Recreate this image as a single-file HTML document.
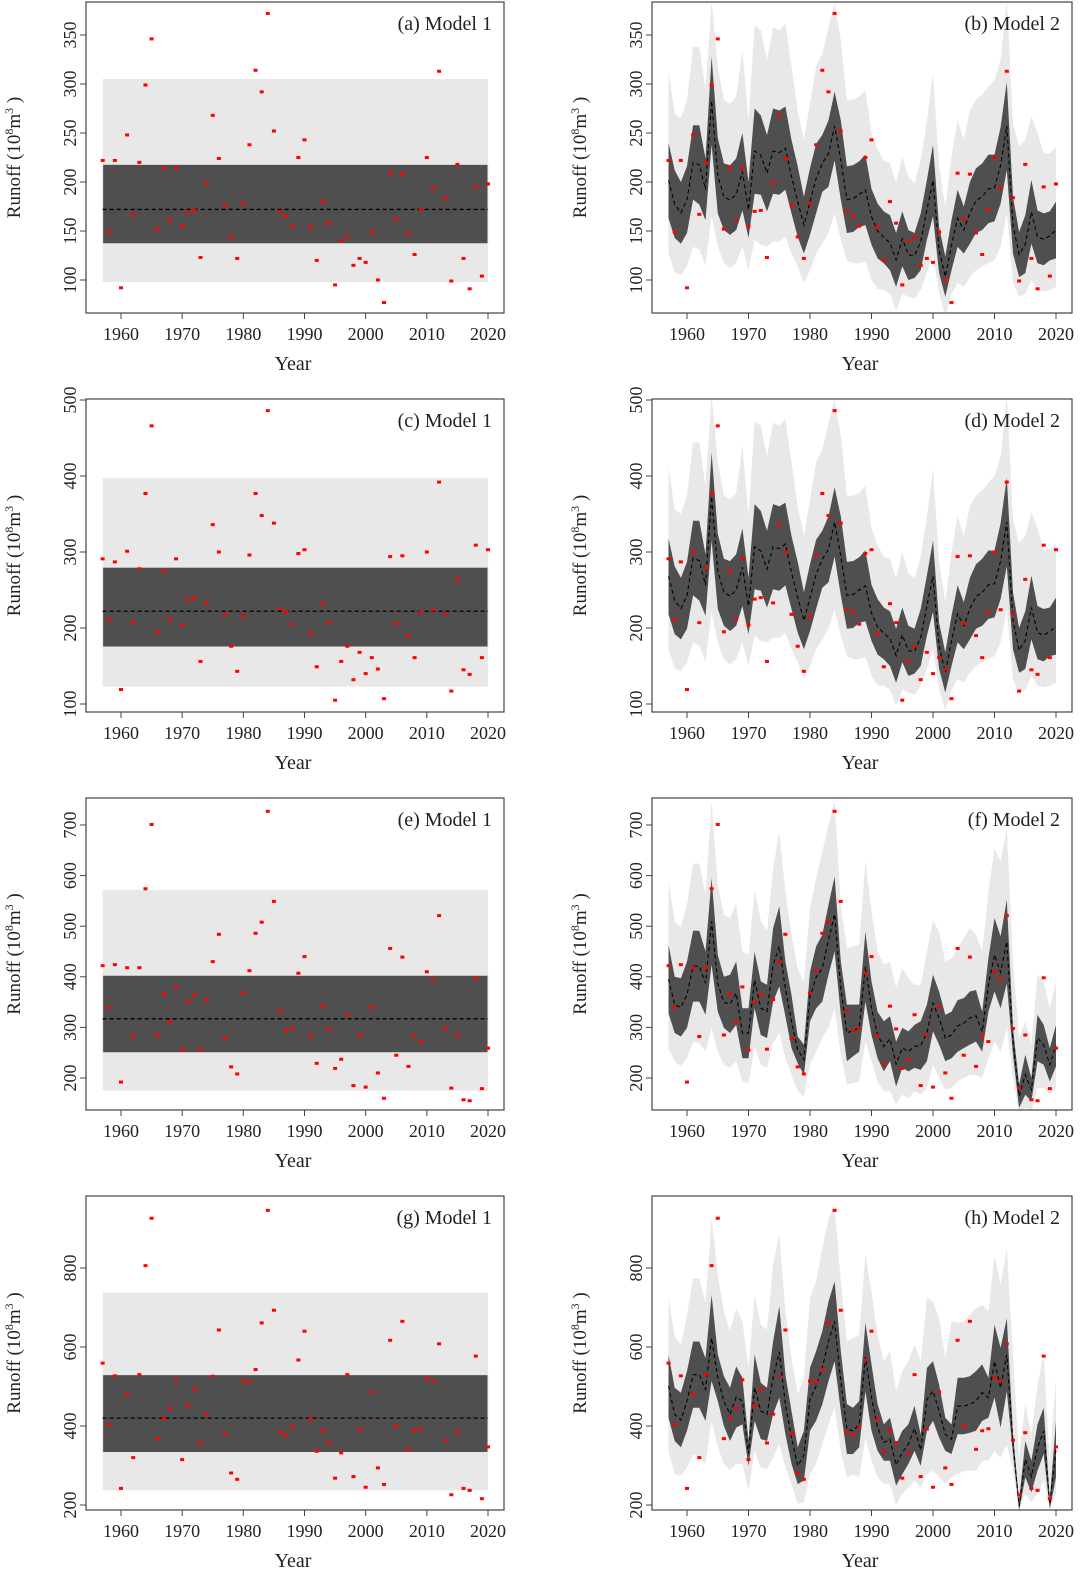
<!DOCTYPE html>
<html><head><meta charset="utf-8"><title>Runoff Model 1 vs Model 2</title>
<style>
html,body{margin:0;padding:0;background:#fff;}
svg{display:block;font-family:"Liberation Serif",serif;}
</style></head>
<body>
<svg id="fig" width="1080" height="1573" viewBox="0 0 1080 1573" xmlns="http://www.w3.org/2000/svg"></svg>
<script>
// ---------- DATA ----------
const yearStart = 1957, yearEnd = 2020;
const xTicks = [1960,1970,1980,1990,2000,2010,2020];

const obsA = [222,149,222,92,248,167,220,299,346,152,215,161,214,155,170,171,123,199,268,224,176,144,122,178,238,314,292,372,252,170,165,155,225,243,154,120,180,158,95,140,144,115,122,118,149,100,77,209,162,208,148,126,172,225,194,313,184,99,218,122,91,195,104,198];
const obsC = [291,211,287,119,301,207,278,377,466,195,275,212,291,204,238,240,156,233,336,300,218,176,143,216,296,377,348,486,338,225,221,205,298,303,192,149,232,207,105,156,176,132,168,140,161,146,107,294,206,295,190,161,221,300,224,392,219,117,264,145,139,309,161,303];
const obsE = [422,339,424,192,418,282,418,574,701,285,366,311,380,255,351,364,257,355,430,484,278,222,208,368,412,486,508,727,549,332,294,299,407,440,284,229,342,297,219,237,325,185,285,182,340,210,160,456,245,439,223,283,272,410,395,521,298,180,285,157,155,398,179,259];
const obsG = [559,404,527,242,481,320,530,806,926,368,420,445,517,315,452,493,357,430,526,643,380,281,265,514,512,543,661,946,693,385,378,397,567,640,417,336,388,358,268,332,530,272,392,245,486,294,252,617,400,665,341,388,393,521,514,608,364,226,383,242,237,577,216,347];

// Model 1 constant bands: [lo95, lo50, mean, hi50, hi95]
const m1A = [98,137,172,218,305];
const m1C = [123,175,222,280,397];
const m1E = [175,250,317,403,572];
const m1G = [237,333,420,530,738];

// Model 2 bands
const hi50B = [240,212,200,216,258,258,224,328,245,219,217,224,250,200,275,268,248,275,273,277,243,216,185,214,239,248,263,292,263,216,217,221,228,193,178,170,166,148,170,151,148,168,202,238,154,124,161,192,175,200,214,219,228,228,256,302,185,149,166,202,171,168,170,180];
const lo50B = [163,143,137,148,182,177,161,238,168,151,146,151,171,143,188,187,170,188,187,192,168,144,127,146,168,190,195,222,182,148,149,154,156,136,122,117,110,93,114,100,102,110,141,165,107,83,110,134,127,137,148,151,158,160,178,212,127,103,107,137,117,115,120,122];
const hi95B = [314,270,265,284,338,338,294,386,318,284,280,287,335,263,360,355,324,358,355,362,318,273,243,280,318,331,358,382,345,284,284,287,294,250,233,222,219,199,226,205,199,222,263,311,216,175,226,263,243,273,284,289,297,304,324,386,260,236,243,267,250,229,229,236];
const lo95B = [127,108,105,114,134,131,115,165,134,117,112,117,134,110,141,136,134,139,139,144,127,114,97,110,127,137,148,168,141,120,117,117,119,100,91,90,86,69,86,83,81,90,107,127,86,64,86,97,93,103,110,114,117,120,134,168,97,83,86,100,90,88,90,93];

const hi50D = [318,281,266,287,341,341,297,431,324,291,288,297,331,266,363,354,328,363,360,365,321,287,247,284,316,328,347,385,347,287,288,293,302,257,238,227,222,199,227,203,199,225,269,315,207,168,216,256,234,266,284,291,302,302,338,398,247,200,222,269,229,225,227,240];
const lo50D = [218,192,185,199,243,236,216,315,225,203,196,203,229,192,251,249,227,251,249,256,225,194,172,196,225,253,260,294,243,199,200,207,209,183,165,159,150,128,155,137,140,150,190,221,146,115,150,181,172,185,199,203,212,214,238,281,172,141,146,185,159,156,163,165];
const hi95D = [413,356,350,374,444,444,387,506,418,374,369,378,440,347,472,466,426,470,466,475,418,360,321,369,418,435,470,501,453,374,374,378,387,331,309,294,291,265,300,272,265,294,347,409,287,234,300,347,321,360,374,381,391,400,426,506,343,312,321,352,331,303,303,312];
const lo95D = [172,147,143,155,181,177,156,221,181,159,152,159,181,150,190,183,181,187,187,194,172,155,133,150,172,185,199,225,190,163,159,159,162,137,125,124,119,97,119,115,112,124,146,172,119,91,119,133,128,141,150,155,159,163,181,225,133,115,119,137,124,122,124,128];

const hi50F = [463,400,397,430,491,491,450,595,443,400,404,430,338,338,449,391,384,496,539,430,364,282,266,410,460,483,542,598,430,345,345,345,489,391,331,312,322,272,299,292,305,312,345,404,371,325,331,354,358,371,374,331,437,516,480,552,299,187,246,200,325,305,259,305];
const lo50F = [328,289,282,299,351,351,325,424,331,299,289,305,239,239,338,285,279,351,381,322,259,229,206,312,338,351,404,450,325,233,243,252,351,285,239,213,233,183,220,213,220,216,233,292,266,233,239,252,259,266,272,252,331,371,338,387,246,141,167,154,233,226,193,223];
const hi95F = [591,509,499,542,624,624,562,746,582,522,516,545,450,443,572,512,489,614,687,568,483,417,391,535,595,647,700,749,542,456,460,463,628,529,450,424,430,378,417,397,384,384,450,512,489,430,437,456,476,496,483,450,568,654,628,693,430,279,312,266,404,391,338,391];
const lo95F = [259,233,223,239,272,269,252,299,252,226,220,233,193,190,262,226,220,269,289,239,206,174,164,226,252,279,299,338,246,187,190,193,272,233,193,174,174,147,167,160,174,167,180,226,200,177,180,193,200,206,206,200,239,272,252,299,200,128,141,134,180,180,167,180];

const hi50H = [581,497,484,539,614,614,572,732,581,526,497,551,522,362,581,509,497,614,703,530,438,346,388,547,589,640,715,766,589,455,446,463,661,556,455,404,421,354,388,404,451,379,547,564,505,421,404,522,522,526,539,556,522,656,598,673,380,210,362,312,404,446,215,413];
const lo50H = [421,362,346,388,446,446,413,514,463,400,362,396,404,299,413,367,362,430,472,379,304,253,262,388,413,455,514,564,438,329,329,346,488,388,337,312,312,249,278,304,337,299,388,413,371,337,329,379,379,383,388,413,421,472,396,488,330,185,270,232,287,329,190,270];
const hi95H = [728,627,606,682,774,774,711,925,782,690,640,698,665,547,732,656,644,808,887,690,572,480,522,724,766,850,925,959,766,614,623,631,833,740,631,564,589,488,539,564,606,564,724,715,673,572,665,661,665,682,698,707,690,833,757,850,581,320,455,379,505,581,304,522];
const lo95H = [337,278,274,295,329,320,304,413,346,304,287,304,304,236,337,295,291,320,354,295,253,203,207,278,304,354,404,446,337,270,278,270,371,312,270,253,253,199,228,245,262,245,278,287,270,253,270,278,287,287,287,312,312,337,320,354,287,190,228,207,228,262,190,228];

const yTicksA = [100,150,200,250,300,350];
const yTicksC = [100,200,300,400,500];
const yTicksE = [200,300,400,500,600,700];
const yTicksG = [200,400,600,800];

// ---------- DRAWING ----------
const NS = "http://www.w3.org/2000/svg";
const svg = document.getElementById("fig");
function mk(tag, attrs, parent){
  const e = document.createElementNS(NS, tag);
  for (const k in attrs) e.setAttribute(k, attrs[k]);
  (parent || svg).appendChild(e);
  return e;
}
const years = [];
for (let y = yearStart; y <= yearEnd; y++) years.push(y);

const rows = [
  {top:2, bot:313, vA:100, pA:280, vB:350, pB:35, ticks:yTicksA},
  {top:399, bot:712, vA:100, pA:704, vB:500, pB:400, ticks:yTicksC},
  {top:798, bot:1110, vA:200, pA:1078, vB:700, pB:825, ticks:yTicksE},
  {top:1196, bot:1510, vA:200, pA:1505, vB:800, pB:1268, ticks:yTicksG}
];
const cols = [
  {left:86, right:504, x1960:121, x2020:488, labelX:62, titleX:16},
  {left:652, right:1072, x1960:687, x2020:1056, labelX:628, titleX:582}
];

let clipId = 0;
function drawPanel(ci, ri, letter, model, obs, m1, bands){
  const c = cols[ci], r = rows[ri];
  const g = mk("g", {});
  
  
  const xs = yr => c.x1960 + (yr - 1960) * (c.x2020 - c.x1960) / 60;
  const ys = v => r.pA + (v - r.vA) * (r.pB - r.pA) / (r.vB - r.vA);
  const id = "clip" + (clipId++);
  const cp = mk("clipPath", {id:id}, g);
  mk("rect", {x:c.left, y:r.top, width:c.right - c.left, height:r.bot - r.top}, cp);
  const plot = mk("g", {"clip-path":"url(#" + id + ")"}, g);

  if (model === 1){
    const xa = xs(yearStart), xb = xs(yearEnd);
    const outer = mk("rect", {x:xa, y:ys(m1[4]), width:xb - xa, height:ys(m1[0]) - ys(m1[4]), fill:"#e8e8e8"}, plot);
    
    
    const inner = mk("rect", {x:xa, y:ys(m1[3]), width:xb - xa, height:ys(m1[1]) - ys(m1[3]), fill:"#4f4f4f", stroke:"#e6e6e6", "stroke-width":1}, plot);
    
    
    const mean = mk("line", {x1:xa, x2:xb, y1:ys(m1[2]), y2:ys(m1[2]), stroke:"#000", "stroke-width":1.3, "stroke-dasharray":"4,3"}, plot);
    
    
  } else {
    const [hi50, lo50, hi95, lo95] = bands;
    const poly = (hi, lo) => {
      let pts = years.map((y,i) => xs(y).toFixed(1) + "," + ys(hi[i]).toFixed(1));
      for (let i = years.length - 1; i >= 0; i--) pts.push(xs(years[i]).toFixed(1) + "," + ys(lo[i]).toFixed(1));
      return pts.join(" ");
    };
    const outer = mk("polygon", {points:poly(hi95, lo95), fill:"#e8e8e8"}, plot);
    
    
    const inner = mk("polygon", {points:poly(hi50, lo50), fill:"#4f4f4f"}, plot);
    
    
    const mpts = years.map((y,i) => xs(y).toFixed(1) + "," + ys((hi50[i] + lo50[i]) / 2).toFixed(1)).join(" ");
    const mean = mk("polyline", {points:mpts, fill:"none", stroke:"#000", "stroke-width":1.1, "stroke-dasharray":"4,3"}, plot);
    
    
  }
  years.forEach((y,i) => {
    const p = mk("rect", {x:xs(y) - 2, y:ys(obs[i]) - 1.5, width:4, height:3, fill:"#ff0000"}, plot);
    
    
  });

  const frame = mk("rect", {x:c.left, y:r.top, width:c.right - c.left, height:r.bot - r.top, fill:"none", stroke:"#444", "stroke-width":1.2}, g);
  
  

  // x axis ticks
  xTicks.forEach(t => {
    mk("line", {x1:xs(t), x2:xs(t), y1:r.bot, y2:r.bot + 6, stroke:"#444", "stroke-width":1}, g);
    const tl = mk("text", {x:xs(t), y:r.bot + 27, "text-anchor":"middle", "font-size":18, fill:"#222"}, g);
    tl.textContent = t;
    
    
  });
  const xt = mk("text", {x:(c.left + c.right) / 2 - 2, y:r.bot + 57, "text-anchor":"middle", "font-size":20, fill:"#222"}, g);
  xt.textContent = "Year";
  
  

  // y axis ticks
  r.ticks.forEach(t => {
    mk("line", {x1:c.left - 6, x2:c.left, y1:ys(t), y2:ys(t), stroke:"#444", "stroke-width":1}, g);
    const tl = mk("text", {x:c.labelX + 14, y:ys(t), "text-anchor":"middle", "font-size":18, fill:"#222", transform:"rotate(-90 " + (c.labelX + 14) + " " + ys(t) + ")"}, g);
    tl.textContent = t;
    
    
  });
  const cy = (r.top + r.bot) / 2;
  const yt = mk("text", {x:c.titleX + 4, y:cy, "text-anchor":"middle", "font-size":19, fill:"#222", transform:"rotate(-90 " + (c.titleX + 4) + " " + cy + ")"}, g);
  yt.innerHTML = 'Runoff (10<tspan dy="-7" font-size="12">8</tspan><tspan dy="7">m</tspan><tspan dy="-7" font-size="12">3</tspan><tspan dy="7"> )</tspan>';
  
  

  const pl = mk("text", {x:c.right - 12, y:r.top + 28, "text-anchor":"end", "font-size":20, fill:"#222"}, g);
  pl.textContent = "(" + letter + ") Model " + model;
  
  
}

drawPanel(0,0,"a",1,obsA,m1A,null);
drawPanel(1,0,"b",2,obsA,null,[hi50B,lo50B,hi95B,lo95B]);
drawPanel(0,1,"c",1,obsC,m1C,null);
drawPanel(1,1,"d",2,obsC,null,[hi50D,lo50D,hi95D,lo95D]);
drawPanel(0,2,"e",1,obsE,m1E,null);
drawPanel(1,2,"f",2,obsE,null,[hi50F,lo50F,hi95F,lo95F]);
drawPanel(0,3,"g",1,obsG,m1G,null);
drawPanel(1,3,"h",2,obsG,null,[hi50H,lo50H,hi95H,lo95H]);
</script>
</body></html>
